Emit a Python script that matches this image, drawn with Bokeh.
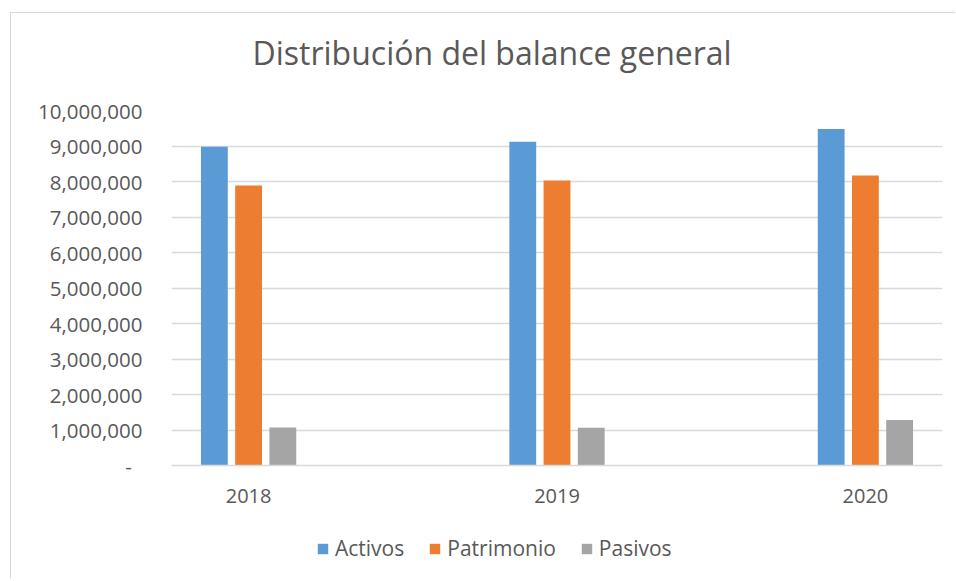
from bokeh.plotting import figure
from bokeh.models import (Range1d, FixedTicker, NumeralTickFormatter, Legend,
                          LegendItem, Title)
from bokeh.layouts import column
from bokeh.embed import file_html
from bokeh.resources import INLINE

# ---- data ----
years = ["2018", "2019", "2020"]
activos = [8980000, 9120000, 9480000]
patrimonio = [7890000, 8030000, 8170000]
pasivos = [1070000, 1060000, 1280000]
series_names = ["Activos", "Patrimonio", "Pasivos"]
series_colors = ["#5b9bd5", "#ed7d31", "#a5a5a5"]
y_ticks = [0, 1000000, 2000000, 3000000, 4000000, 5000000,
           6000000, 7000000, 8000000, 9000000, 10000000]
chart_title = "Distribución del balance general"

FONT = "Open Sans"
TXT = "#595959"
GRID = "#d9d9d9"

p = figure(width=944, height=506, output_backend="svg", toolbar_location=None,
           x_range=Range1d(-0.25, 2.25), y_range=Range1d(0, 10000000),
           min_border_left=160, min_border_right=13, min_border_top=97,
           min_border_bottom=54)

# spacer between frame and title (inner), then the real title (outer)
p.title.text = ""
p.title.visible = False
p.add_layout(Title(text="\u00a0", text_font_size="1px", standoff=29), "above")
p.add_layout(Title(text=chart_title, text_font=FONT, text_font_size="32px",
                   text_font_style="normal", text_color=TXT, align="left",
                   offset=81, standoff=10), "above")

p.outline_line_color = None
p.background_fill_color = "white"
p.border_fill_color = "white"

xs = list(range(len(years)))
offsets = [-0.111, 0.0, 0.111]
values = [activos, patrimonio, pasivos]
for vals, off, col in zip(values, offsets, series_colors):
    p.vbar(x=[x + off for x in xs], top=vals, width=0.087, bottom=0,
           fill_color=col, line_color=None)

# axes
p.xaxis.ticker = FixedTicker(ticks=xs)
p.xaxis.major_label_overrides = {i: y for i, y in enumerate(years)}
p.xaxis.major_tick_line_color = None
p.xaxis.major_tick_out = 0
p.xaxis.major_tick_in = 0
p.xaxis.minor_tick_line_color = None
p.xaxis.axis_line_color = GRID
p.xaxis.axis_line_width = 1.3
p.xaxis.major_label_text_font = FONT
p.xaxis.major_label_text_font_size = "20px"
p.xaxis.major_label_text_color = TXT
p.xaxis.major_label_standoff = 23

p.yaxis.ticker = FixedTicker(ticks=y_ticks)
p.yaxis.formatter = NumeralTickFormatter(format="0,0")
p.yaxis.major_label_overrides = {0: "-\u00a0\u00a0"}
p.yaxis.major_tick_line_color = None
p.yaxis.major_tick_out = 0
p.yaxis.major_tick_in = 0
p.yaxis.minor_tick_line_color = None
p.yaxis.axis_line_color = None
p.yaxis.major_label_text_font = FONT
p.yaxis.major_label_text_font_size = "20.5px"
p.yaxis.major_label_text_color = TXT
p.yaxis.major_label_standoff = 29

p.xgrid.grid_line_color = None
p.ygrid.grid_line_color = GRID
p.ygrid.grid_line_width = 1.3

# ---- legend strip (same series, zero-height so only the legend shows) ----
p2 = figure(width=944, height=59, output_backend="svg", toolbar_location=None,
            x_range=Range1d(-0.25, 2.25), y_range=Range1d(0, 10000000),
            x_axis_location=None, y_axis_location=None,
            min_border_left=0, min_border_right=0, min_border_top=0,
            min_border_bottom=0)
p2.outline_line_color = None
p2.xgrid.visible = False
p2.ygrid.visible = False
leg_renderers = []
for vals, off, col in zip(values, offsets, series_colors):
    leg_renderers.append(p2.vbar(x=[x + off for x in xs], top=vals, bottom=vals,
                                 width=0.087, fill_color=col, line_color=None))

legend = Legend(items=[LegendItem(label=n, renderers=[r]) for n, r in zip(series_names, leg_renderers)],
                orientation="horizontal", location=(145, 16),
                glyph_width=13, glyph_height=13, label_standoff=6, spacing=24,
                padding=0, margin=0, border_line_color=None,
                background_fill_alpha=0,
                label_text_font=FONT, label_text_font_size="21px",
                label_text_color=TXT)
p2.add_layout(legend, "center")

layout = column(p, p2, spacing=0,
                styles={"margin-left": "10px", "margin-top": "12px",
                        "border-left": "1px solid #d9d9d9",
                        "border-top": "1px solid #d9d9d9"})

open("out.html", "w").write(file_html(layout, INLINE))
